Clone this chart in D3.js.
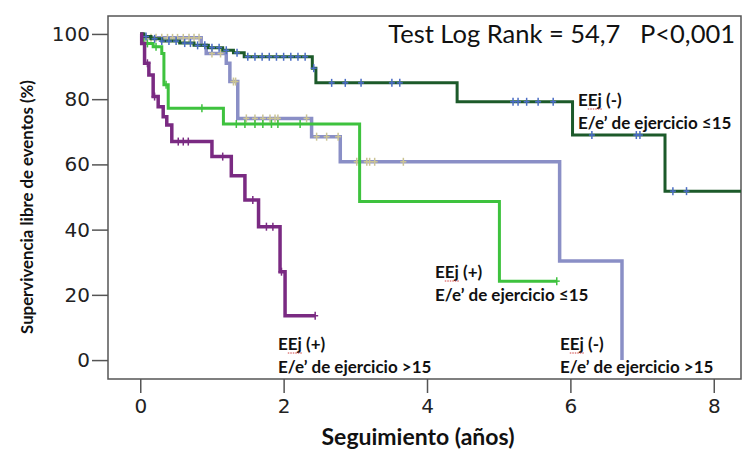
<!DOCTYPE html>
<html>
<head>
<meta charset="utf-8">
<script src="https://cdn.jsdelivr.net/npm/d3@7"></script>
<style>
  body { margin: 0; background: #fff; }
  .tick text { font-family: 'DejaVu Sans', sans-serif; font-size: 20px; fill: #222; }
  .tick line { stroke: #555; stroke-width: 1.5; }
  .lbl { font-family: Lato, 'Open Sans', sans-serif; font-weight: bold; fill: #111; }
</style>
</head>
<body>
<div id="chart"></div>
<script>
// ---- data (time in years, survival in %) ----
var ticksX = [0, 2, 4, 6, 8];
var ticksY = [0, 20, 40, 60, 80, 100];

// EEj (-), E/e' <=15  (dark green)
var negLowT = [0, 0.05, 0.15, 0.3, 0.55, 0.75, 0.95, 1.15, 1.3, 1.45, 2.4, 2.45, 4.42, 6.03, 7.32];
var negLowS = [100, 99.2, 98.5, 97.8, 97.2, 96.5, 95.8, 95, 94.2, 93, 89.5, 85, 79.2, 69, 51.8];
var negLowEnd = 8.38;
var negLowCens = [0.08, 0.2, 0.3, 0.4, 0.5, 0.62, 0.7, 0.8, 0.9, 1.0, 1.1, 1.2, 1.35, 1.5, 1.6, 1.7, 1.8, 1.9, 2.0, 2.1, 2.2, 2.3, 2.42,
                  2.67, 2.86, 3.08, 3.51, 3.62, 5.2, 5.27, 5.39, 5.55, 5.76, 6.3, 6.92, 6.97, 7.43, 7.62];

// EEj (-), E/e' >15  (lavender)
var negHighT = [0, 0.03, 0.85, 0.92, 1.2, 1.25, 1.36, 2.39, 2.79, 5.85, 6.72];
var negHighS = [100, 98.8, 96.5, 94, 91, 85.4, 74.1, 68.5, 60.8, 30.4, 0];
var negHighEnd = 6.72;
var negHighCens = [0.08, 0.15, 0.22, 0.3, 0.38, 0.45, 0.52, 0.6, 0.68, 0.75, 0.82, 1.0, 1.12, 1.3, 1.33,
                   1.48, 1.6, 1.71, 1.81, 1.88, 1.92, 2.32, 2.46, 2.6, 2.76, 3.02, 3.16, 3.2, 3.27, 3.67];

// EEj (+), E/e' <=15  (bright green)
var posLowT = [0, 0.04, 0.18, 0.3, 0.33, 0.39, 1.16, 3.06, 5.01];
var posLowS = [100, 97.1, 96.1, 94, 84.4, 77.2, 72.4, 48.6, 24.2];
var posLowEnd = 5.81;
var posLowCens = [0.1, 0.22, 0.36, 0.86, 1.34, 1.46, 1.6, 1.71, 1.83, 1.92, 2.23, 5.81];

// EEj (+), E/e' >15  (purple)
var posHighT = [0, 0.02, 0.06, 0.12, 0.18, 0.25, 0.32, 0.37, 0.44, 1.0, 1.27, 1.46, 1.65, 1.95, 2.02];
var posHighS = [100, 97.1, 91, 87.4, 80.8, 77.7, 74.6, 72.1, 67, 62.4, 56.5, 49.1, 40.9, 27.1, 13.6];
var posHighEnd = 2.44;
var posHighCens = [0.1, 0.2, 0.53, 0.6, 0.67, 1.15, 1.57, 1.76, 1.85, 1.97, 2.44];

var groups = [
  { t: negHighT, s: negHighS, end: negHighEnd, cens: negHighCens, line: "#8a8fc6", mark: "#cbc494", w: 3.5 },
  { t: posLowT, s: posLowS, end: posLowEnd, cens: posLowCens, line: "#3ec23e", mark: "#3ec23e", w: 3 },
  { t: negLowT, s: negLowS, end: negLowEnd, cens: negLowCens, line: "#1c5a2a", mark: "#4a6cc4", w: 3 },
  { t: posHighT, s: posHighS, end: posHighEnd, cens: posHighCens, line: "#7a2a82", mark: "#7a2a82", w: 3.5 }
];

var width = 750, height = 464;
var svg = d3.select("#chart").append("svg")
    .attr("width", width)
    .attr("height", height);

var x = d3.scaleLinear().domain([-0.45, 8.38]).range([108, 741]);
var y = d3.scaleLinear().domain([-5.8, 105.5]).range([379, 16]);

// frame
svg.append("rect")
    .attr("x", x.range()[0]).attr("y", y.range()[1])
    .attr("width", x.range()[1] - x.range()[0])
    .attr("height", y.range()[0] - y.range()[1])
    .attr("fill", "none").attr("stroke", "#555").attr("stroke-width", 1.5);

// axes
svg.append("g")
    .attr("transform", "translate(" + x.range()[0] + ",0)")
    .call(d3.axisLeft(y).tickValues(ticksY).tickSize(16).tickPadding(2));
svg.append("g")
    .attr("transform", "translate(0," + y.range()[0] + ")")
    .call(d3.axisBottom(x).tickValues(ticksX).tickSize(14).tickPadding(6));
svg.selectAll(".domain").remove();

// survival curves
var line = d3.line()
    .x(function (d) { return x(d[0]); })
    .y(function (d) { return y(d[1]); })
    .curve(d3.curveStepAfter);

function survAt(g, c) {
  var v = g.s[0];
  for (var i = 0; i < g.t.length; i++) { if (g.t[i] <= c) v = g.s[i]; }
  return v;
}

groups.forEach(function (g) {
  var pts = g.t.map(function (t, i) { return [t, g.s[i]]; });
  pts.push([g.end, g.s[g.s.length - 1]]);
  svg.append("path")
      .attr("d", line(pts))
      .attr("fill", "none")
      .attr("stroke", g.line)
      .attr("stroke-width", g.w);

  // censor marks
  var cg = svg.append("g").attr("stroke", g.mark).attr("stroke-width", 1.5);
  cg.selectAll("line.v").data(g.cens).enter().append("line")
      .attr("x1", function (d) { return x(d); })
      .attr("x2", function (d) { return x(d); })
      .attr("y1", function (d) { return y(survAt(g, d)) - 4; })
      .attr("y2", function (d) { return y(survAt(g, d)) + 4; });
  cg.selectAll("line.h").data(g.cens).enter().append("line")
      .attr("x1", function (d) { return x(d) - 3; })
      .attr("x2", function (d) { return x(d) + 3; })
      .attr("y1", function (d) { return y(survAt(g, d)); })
      .attr("y2", function (d) { return y(survAt(g, d)); });
});

// axis titles
svg.append("text")
    .attr("class", "lbl")
    .attr("transform", "translate(33,207) rotate(-90)")
    .style("text-anchor", "middle")
    .style("font-size", "16.8px")
    .text("Supervivencia libre de eventos (%)");

svg.append("text")
    .attr("class", "lbl")
    .attr("x", 418).attr("y", 445)
    .style("text-anchor", "middle")
    .style("font-size", "23px")
    .text("Seguimiento (años)");

svg.append("text")
    .attr("x", 735).attr("y", 43)
    .style("text-anchor", "end")
    .style("font-family", "Lato, sans-serif")
    .style("font-size", "25.5px")
    .style("white-space", "pre")
    .attr("fill", "#111")
    .text("Test Log Rank = 54,7   P<0,001");

// group labels
var labels = [
  { x: 578, y: 106, a: "EEj (-)", b: "E/e’ de ejercicio ≤15" },
  { x: 435, y: 278, a: "EEj (+)", b: "E/e’ de ejercicio ≤15" },
  { x: 278, y: 350, a: "EEj (+)", b: "E/e’ de ejercicio >15" },
  { x: 560, y: 350, a: "EEj (-)", b: "E/e’ de ejercicio >15" }
];
labels.forEach(function (l) {
  var t1 = svg.append("text").attr("class", "lbl")
      .attr("x", l.x).attr("y", l.y).style("font-size", "17px").text(l.a);
  svg.append("text").attr("class", "lbl")
      .attr("x", l.x).attr("y", l.y + 23).style("font-size", "17px").text(l.b);
  // spell-check squiggle under "Ej"
  var n = t1.node();
  var x0 = l.x + n.getSubStringLength(0, 1);
  var w = n.getSubStringLength(1, 2);
  svg.append("line")
      .attr("x1", x0).attr("x2", x0 + w)
      .attr("y1", l.y + 3).attr("y2", l.y + 3)
      .attr("stroke", "#d04040").attr("stroke-width", 1)
      .attr("stroke-dasharray", "1.5,1");
});
</script>
</body>
</html>
